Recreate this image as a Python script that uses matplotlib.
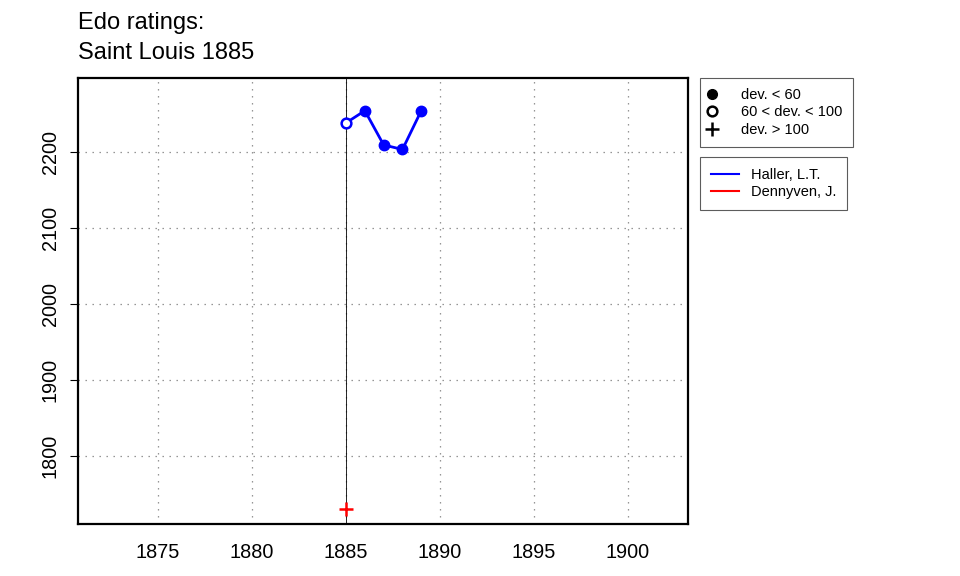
import numpy as np
import matplotlib
matplotlib.use("Agg")
import matplotlib.pyplot as plt
from matplotlib.lines import Line2D

plt.rcParams['font.family'] = ['Liberation Sans', 'DejaVu Sans']

# data
haller_years = [1885, 1886, 1887, 1888, 1889]
haller_rating = [2238, 2254, 2209, 2203, 2254]
haller_dev = ['mid', 'low', 'low', 'low', 'low']   # low: <60, mid: 60-100, high: >100

dennyven_years = [1885]
dennyven_rating = [1730]
dennyven_dev = ['high']

event_year = 1885
x_ticks = [1875, 1880, 1885, 1890, 1895, 1900]
y_ticks = [1800, 1900, 2000, 2100, 2200]
title_lines = ["Edo ratings:", "Saint Louis 1885"]


def draw_points(ax, xs, ys, devs, col):
    for x, y, d in zip(xs, ys, devs):
        if d == 'low':
            ax.plot(x, y, 'o', color=col, ms=7.5, zorder=4)
        elif d == 'mid':
            ax.plot(x, y, 'o', mfc='white', mec=col, mew=1.8, ms=7, zorder=4)
        else:
            ax.plot(x, y, '+', color=col, ms=10, mew=1.8, zorder=4)


fig = plt.figure(figsize=(9.6, 5.76), dpi=100)
ax = fig.add_axes([78/960, 52/576, 610/960, 446/576])

ax.set_xlim(1870.74, 1903.19)
ax.set_ylim(1710.5, 2297)

dots = (0, (1.1, 4.5))
for x in x_ticks:
    ax.axvline(x, color='#888888', lw=0.9, ls=dots, zorder=1)
for y in y_ticks:
    ax.axhline(y, color='#888888', lw=0.9, ls=dots, zorder=1)
ax.axvline(event_year, color='black', lw=0.6, zorder=2)

ax.plot(haller_years, haller_rating, color='blue', lw=2, zorder=3)
draw_points(ax, haller_years, haller_rating, haller_dev, 'blue')
ax.plot(dennyven_years, dennyven_rating, color='red', lw=2, zorder=3)
draw_points(ax, dennyven_years, dennyven_rating, dennyven_dev, 'red')

ax.set_xticks(x_ticks)
ax.set_yticks(y_ticks)
ax.tick_params(axis='x', length=0, pad=14, labelsize=14.3)
ax.tick_params(axis='y', length=5.5, width=0.8, pad=7.6, labelsize=14.3)
for lab in ax.get_yticklabels():
    lab.set_rotation(90)
    lab.set_va('center')
for s in ax.spines.values():
    s.set_linewidth(1.6)

fig.text(78/960, 1 - 23/576, title_lines[0], fontsize=17, va='center', ha='left')
fig.text(78/960, 1 - 53/576, title_lines[1], fontsize=17, va='center', ha='left')

h1 = [Line2D([], [], ls='none', marker='o', color='black', ms=7),
      Line2D([], [], ls='none', marker='o', mfc='white', mec='black', mew=1.8, ms=7),
      Line2D([], [], ls='none', marker='+', color='black', ms=10, mew=1.8)]
leg1 = ax.legend(h1, ['dev. < 60', '60 < dev. < 100', 'dev. > 100'],
                 loc='upper left', bbox_to_anchor=(1.0197, 1.0), fontsize=10.5,
                 frameon=True, fancybox=False, edgecolor='#333333',
                 handlelength=0.2, handletextpad=1.92, borderaxespad=0,
                 labelspacing=0.22, borderpad=0.7)
leg1.get_frame().set_linewidth(0.8)
ax.add_artist(leg1)

h2 = [Line2D([], [], color='blue', lw=1.5), Line2D([], [], color='red', lw=1.5)]
leg2 = ax.legend(h2, ['Haller, L.T.', 'Dennyven, J.'],
                 loc='upper left', bbox_to_anchor=(1.0197, 0.8229), fontsize=10.5,
                 frameon=True, fancybox=False, edgecolor='#333333',
                 handlelength=1.9, handletextpad=0.82, borderaxespad=0,
                 labelspacing=0.22, borderpad=0.75)
leg2.get_frame().set_linewidth(0.8)

plt.savefig("out.png", dpi=100)
